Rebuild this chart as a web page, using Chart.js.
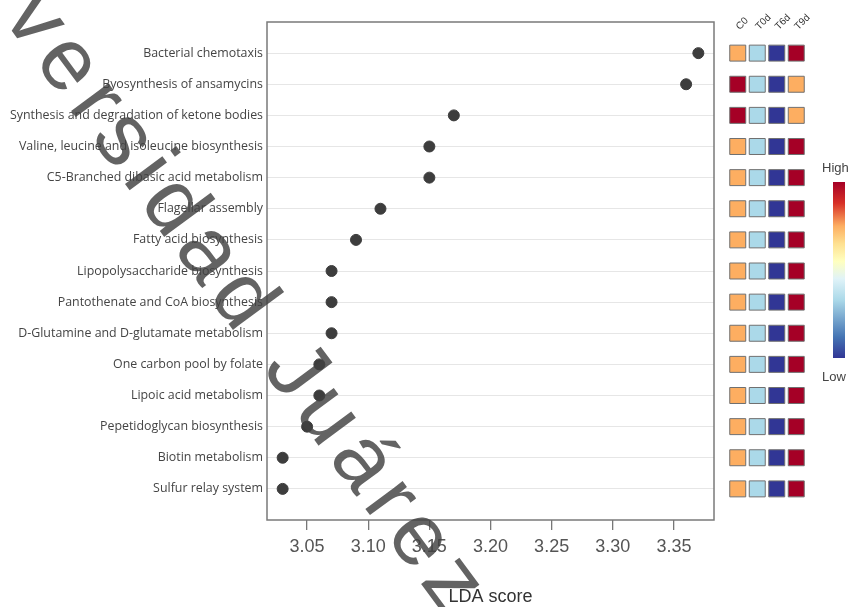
<!doctype html>
<html>
<head>
    <title>LDA score</title>
    <script src="https://cdn.jsdelivr.net/npm/chart.js"></script>
    <style>
        body { margin: 0; background: #fff; }
        .wrap { position: relative; width: 852px; height: 607px; }
        .wrap canvas { position: absolute; left: 0; top: 0; }
    </style>
</head>
<body>
<div class="wrap">
    <canvas id="lda" width="852" height="607"></canvas>
    <canvas id="heat" width="852" height="607"></canvas>
</div>

<script>
    // pathways, top to bottom
    var vias = [
        'Bacterial chemotaxis',
        'Byosynthesis of ansamycins',
        'Synthesis and degradation of ketone bodies',
        'Valine, leucine and isoleucine biosynthesis',
        'C5-Branched dibasic acid metabolism',
        'Flagellar assembly',
        'Fatty acid biosynthesis',
        'Lipopolysaccharide biosynthesis',
        'Pantothenate and CoA biosynthesis',
        'D-Glutamine and D-glutamate metabolism',
        'One carbon pool by folate',
        'Lipoic acid metabolism',
        'Pepetidoglycan biosynthesis',
        'Biotin metabolism',
        'Sulfur relay system'
    ];
    var ldaScore = [3.37, 3.36, 3.17, 3.15, 3.15, 3.11, 3.09, 3.07, 3.07, 3.07, 3.06, 3.06, 3.05, 3.03, 3.03];
    var xTicks = [3.05, 3.10, 3.15, 3.20, 3.25, 3.30, 3.35];

    // heatmap (relative abundance, 0 = low, 1 = high)
    var grupos = ['C0', 'T0d', 'T6d', 'T9d'];
    var heatC0  = [0.75, 1, 1, 0.75, 0.75, 0.75, 0.75, 0.75, 0.75, 0.75, 0.75, 0.75, 0.75, 0.75, 0.75];
    var heatT0  = [0.33, 0.33, 0.33, 0.33, 0.33, 0.33, 0.33, 0.33, 0.33, 0.33, 0.33, 0.33, 0.33, 0.33, 0.33];
    var heatT6  = [0, 0, 0, 0, 0, 0, 0, 0, 0, 0, 0, 0, 0, 0, 0];
    var heatT9  = [1, 0.75, 0.75, 1, 1, 1, 1, 1, 1, 1, 1, 1, 1, 1, 1];

    var escala = [
        [0, [49, 54, 149]],
        [0.12, [69, 117, 180]],
        [0.33, [171, 217, 233]],
        [0.45, [224, 243, 248]],
        [0.55, [255, 255, 191]],
        [0.65, [254, 224, 144]],
        [0.75, [253, 174, 97]],
        [0.88, [215, 48, 39]],
        [1, [165, 0, 38]]
    ];

    function cor(v) {
        for (var i = 1; i < escala.length; i++) {
            if (v <= escala[i][0]) {
                var a = escala[i - 1], b = escala[i];
                var t = (v - a[0]) / (b[0] - a[0]);
                var c = a[1].map(function (x, k) { return Math.round(x + (b[1][k] - x) * t); });
                return 'rgb(' + c.join(',') + ')';
            }
        }
        return 'rgb(165,0,38)';
    }

    var fonteLabel = "'Open Sans', sans-serif";
    var fonteEixo = "'Liberation Sans', Arial, sans-serif";

    var caixa = {
        id: 'caixa',
        afterDatasetsDraw: function (chart) {
            var a = chart.chartArea, ctx = chart.ctx;
            ctx.save();
            ctx.strokeStyle = '#7a7a7a';
            ctx.lineWidth = 1.5;
            ctx.strokeRect(a.left, a.top, a.right - a.left, a.bottom - a.top);
            ctx.restore();
        }
    };

    var grafico = new Chart(document.getElementById('lda').getContext('2d'), {
        type: 'scatter',
        data: {
            datasets: [{
                data: ldaScore.map(function (v, i) { return { x: v, y: i + 1 }; }),
                backgroundColor: '#3d3d3d',
                borderColor: '#3d3d3d',
                pointRadius: 5.5
            }]
        },
        options: {
            responsive: false,
            animation: false,
            layout: { padding: { top: 22, right: 138, left: 0, bottom: 0 } },
            plugins: { legend: { display: false }, tooltip: { enabled: false } },
            scales: {
                x: {
                    type: 'linear',
                    min: 3.0172,
                    max: 3.3828,
                    afterBuildTicks: function (s) { s.ticks = xTicks.map(function (v) { return { value: v }; }); },
                    afterFit: function (s) { s.height = 87; },
                    border: { display: false },
                    grid: { drawOnChartArea: false, drawTicks: true, tickLength: 10, color: '#777', lineWidth: 1.3 },
                    ticks: {
                        color: '#555',
                        padding: 6,
                        font: { family: fonteEixo, size: 18 },
                        callback: function (v) { return v.toFixed(2); }
                    },
                    title: {
                        display: true,
                        text: 'LDA score',
                        color: '#333',
                        font: { family: fonteEixo, size: 18 },
                        padding: { top: 2, bottom: -1 }
                    }
                },
                y: {
                    type: 'linear',
                    min: 0,
                    max: 16,
                    reverse: true,
                    afterFit: function (s) { s.width = 267; },
                    afterBuildTicks: function (s) { s.ticks = vias.map(function (n, i) { return { value: i + 1 }; }); },
                    border: { display: false },
                    grid: { drawTicks: false, color: '#e6e6e6', lineWidth: 1 },
                    ticks: {
                        color: '#444',
                        padding: 4,
                        font: { family: fonteLabel, size: 12.4 },
                        callback: function (v) { return vias[v - 1] || ''; }
                    }
                }
            }
        },
        plugins: [caixa]
    });

    var legenda = {
        id: 'legenda',
        afterDraw: function (chart) {
            var ctx = chart.ctx;
            ctx.save();
            // color key
            var x0 = 833, y0 = 182, w = 12, h = 176;
            var g = ctx.createLinearGradient(0, y0 + h, 0, y0);
            escala.forEach(function (s) { g.addColorStop(s[0], 'rgb(' + s[1].join(',') + ')'); });
            ctx.fillStyle = g;
            ctx.fillRect(x0, y0, w, h);
            ctx.fillStyle = '#444';
            ctx.font = '13px ' + fonteEixo;
            ctx.textBaseline = 'middle';
            ctx.textAlign = 'left';
            ctx.fillText('High', 822, 168);
            ctx.fillText('Low', 822, 377);

            // watermark
            var txt = 'Universidad Juárez';
            var fs = 88;
            ctx.font = fs + 'px ' + fonteEixo;
            var wv = ctx.measureText('v').width, wz = ctx.measureText('z').width;
            var base = ctx.measureText('versidad Juárez').width - wv / 2 - wz / 2;
            var ls = (702 - base) / 14;
            var off = ctx.measureText('Uni').width + 3 * ls + wv / 2;
            ctx.letterSpacing = ls + 'px';
            ctx.translate(33, 21);
            ctx.rotate(Math.atan2(557, 412));
            ctx.fillStyle = 'rgba(65,65,65,0.82)';
            ctx.textBaseline = 'alphabetic';
            ctx.fillText(txt, -off, 0.26 * fs);
            ctx.restore();
        }
    };

    var colunas = [heatC0, heatT0, heatT6, heatT9];
    var heatmap = new Chart(document.getElementById('heat').getContext('2d'), {
        type: 'scatter',
        data: {
            datasets: colunas.map(function (col, j) {
                return {
                    data: col.map(function (v, i) { return { x: grupos[j], y: i + 1 }; }),
                    backgroundColor: col.map(cor),
                    borderColor: '#707070',
                    borderWidth: 1,
                    pointStyle: 'rect',
                    pointRadius: 11.3
                };
            })
        },
        options: {
            responsive: false,
            animation: false,
            layout: { padding: { top: 0, right: 46, left: 728, bottom: 87 } },
            plugins: { legend: { display: false }, tooltip: { enabled: false } },
            scales: {
                x: {
                    type: 'category',
                    labels: grupos,
                    position: 'top',
                    offset: true,
                    afterFit: function (s) { s.height = 22; },
                    border: { display: false },
                    grid: { display: false },
                    ticks: {
                        color: '#333',
                        mirror: true,
                        padding: 2,
                        autoSkip: false,
                        maxRotation: 45,
                        minRotation: 45,
                        font: { family: fonteEixo, size: 10 }
                    }
                },
                y: {
                    type: 'linear',
                    display: false,
                    min: 0,
                    max: 16,
                    reverse: true
                }
            }
        },
        plugins: [legenda]
    });
</script>
</body>
</html>
